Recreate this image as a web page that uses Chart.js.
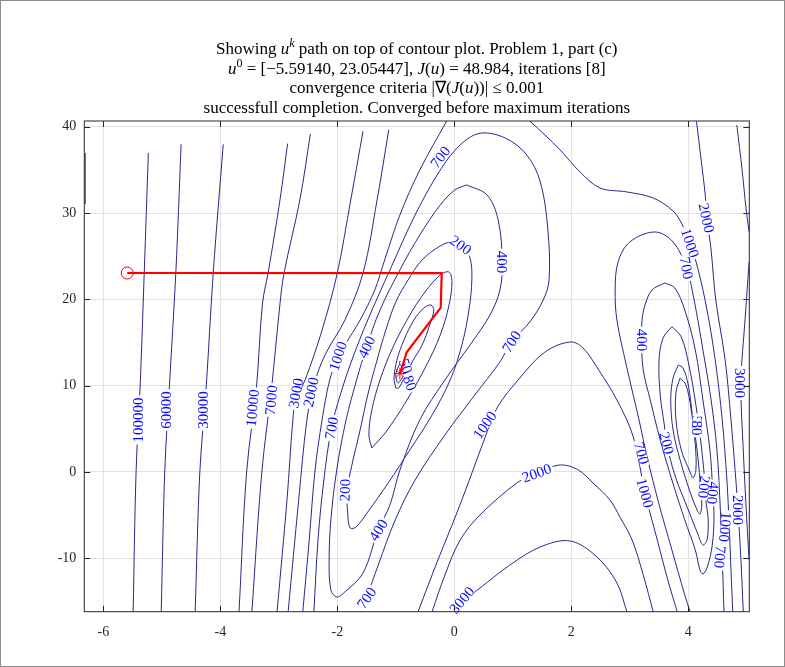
<!DOCTYPE html>
<html>
<head>
<meta charset="utf-8">
<script src="https://cdn.jsdelivr.net/npm/chart.js@4.4.0/dist/chart.umd.min.js"></script>
<style>
html, body { margin: 0; padding: 0; background: #fff; }
#wrap { width: 785px; height: 667px; }
</style>
</head>
<body>
<div id="wrap"><canvas id="contour-chart" width="785" height="667"></canvas></div>
<script>
let lineNavy = "rgb(40,40,140)";
let labelBlue = "rgb(10,10,255)";
let pathRed = "rgb(255,0,0)";

// axis limits and ticks
let xLimits = [-6.325, 5.043];
let yLimits = [-16.19, 40.67];
let xTicks = [-6, -4, -2, 0, 2, 4];
let yTicks = [-10, 0, 10, 20, 30, 40];

// search path u^k
let pathX = [-5.5914, -0.215, -0.232, -0.814, -0.872, -0.928, -0.93, -0.93, -0.93];
let pathY = [23.05447, 23.05, 19.04, 13.87, 12.6, 11.44, 11.42, 11.41, 11.41];

// contour lines, [x, y]
let edgeLine = [[-6.31, 36.96], [-6.31, 31.06]];
let c100000 = [[-5.23,36.96],[-5.30,23.17],[-5.37,9.97],[-5.44,0],[-5.49,-16.19]];
let c60000 = [[-4.67,37.97],[-4.76,23.17],[-4.87,9.97],[-4.95,0],[-5.01,-16.19]];
let c30000 = [[-3.95,37.97],[-4.12,23.17],[-4.24,9.97],[-4.35,0],[-4.43,-16.19]];
let c10000 = [[-2.85,38.05],[-2.98,31.52],[-3.18,23.17],[-3.28,19.47],[-3.38,9.97],[-3.55,0],[-3.68,-16.19]];
let c7000 = [[-2.46,39.17],[-2.64,31.52],[-2.91,23.06],[-2.98,19.47],[-3.12,9.97],[-3.29,0],[-3.46,-16.19]];
let c3000 = [[-1.56,39.48],[-1.77,31.52],[-2.00,23.06],[-2.26,16.45],[-2.55,10.66],[-2.71,8.34],[-2.76,6.03],[-2.86,-3.24],[-3.03,-16.19]];
let c2000 = [[-1.12,39.66],[-1.32,31.52],[-1.56,23.06],[-1.87,17.61],[-2.21,13.56],[-2.40,10.08],[-2.52,6.03],[-2.66,-3.24],[-2.84,-16.19]];
let c1000a = [[-0.13,40.67],[-0.59,34.99],[-0.93,29.78],[-1.19,24.57],[-1.36,21.09],[-1.61,17.61],[-1.87,14.72],[-1.99,13.21],[-2.13,10.66],[-2.26,6.03],[-2.38,0.23],[-2.48,-7.88],[-2.59,-16.19]];
let c700a = [[-2.40,-16.19],[-2.33,-7.88],[-2.23,-0.93],[-2.10,5.10],[-1.95,8.92],[-1.75,12.98],[-1.48,17.61],[-1.10,23.41],[-0.67,29.78],[-0.24,34.99],[0.10,37.89],[0.44,39.25],[0.87,38.70],[1.24,36.73],[1.47,33.60],[1.60,28.04],[1.62,22.25],[1.52,19.93],[1.29,17.38],[0.98,15.10],[0.78,12.75],[0.35,8.92],[-0.16,4.29],[-0.67,-0.93],[-1.01,-5.56],[-1.30,-10.78],[-1.50,-14.60],[-1.58,-16.19]];
let c400a = [[0.21,33.26],[0.56,32.10],[0.75,29.20],[0.82,24.33],[0.78,21.09],[0.61,18.19],[0.27,14.72],[-0.16,10.66],[-0.59,6.03],[-0.93,0.23],[-1.10,-3.82],[-1.30,-6.72],[-1.56,-11.70],[-1.87,-13.90],[-2.01,-14.48],[-2.11,-13.67],[-2.14,-10.20],[-2.11,-5.56],[-2.01,0.23],[-1.85,6.03],[-1.67,10.66],[-1.50,14.48],[-1.27,18.77],[-0.93,23.41],[-0.59,27.46],[-0.24,30.94],[0.01,32.68],[0.21,33.26]];
let c200a = [[0.01,26.88],[-0.24,26.19],[-0.55,24.57],[-0.79,22.25],[-1.00,19.70],[-1.17,16.45],[-1.32,12.98],[-1.48,8.92],[-1.61,4.87],[-1.75,0.81],[-1.83,-2.09],[-1.82,-4.98],[-1.78,-6.49],[-1.68,-6.37],[-1.48,-4.64],[-1.13,-1.27],[-0.76,2.55],[-0.38,6.60],[-0.07,10.66],[0.13,14.72],[0.25,18.77],[0.30,22.25],[0.27,24.80],[0.13,26.54],[0.01,26.88]];
let c100a = [[-1.41,2.78],[-1.46,4.29],[-1.41,7.18],[-1.27,10.66],[-1.07,14.14],[-0.79,17.84],[-0.50,20.86],[-0.24,22.83],[-0.09,23.17],[-0.04,22.02],[-0.09,19.35],[-0.24,15.87],[-0.50,12.05],[-0.84,7.99],[-1.17,4.63],[-1.41,2.78]];
let c80a = [[-1.00,9.73],[-1.03,10.89],[-0.98,12.98],[-0.86,15.30],[-0.69,17.61],[-0.52,19.00],[-0.40,19.35],[-0.35,18.77],[-0.42,17.03],[-0.55,14.72],[-0.72,12.75],[-0.86,10.89],[-0.95,9.73],[-1.00,9.73]];
let c50a = [[-0.98,10.43],[-1.00,11.24],[-0.95,12.28],[-0.86,12.98],[-0.81,12.86],[-0.83,12.05],[-0.89,10.89],[-0.96,10.31],[-0.98,10.43]];
let c1000b = [[-0.62,-16.19],[-0.28,-10.20],[0.05,-4.64],[0.32,0.23],[0.51,3.71],[0.73,7.42],[1.12,10.89],[1.55,13.90],[1.98,15.06],[2.20,14.37],[2.49,11.59],[2.78,8.34],[3.06,4.06],[3.26,-2.43],[3.47,-7.88],[3.65,-12.51],[3.81,-16.19]];
let c2000b = [[-0.38,-16.19],[-0.16,-11.94],[0.10,-7.88],[0.44,-4.98],[1.07,-1.27],[1.41,-0.12],[1.81,0.81],[2.12,0.23],[2.37,-1.27],[2.66,-3.24],[2.83,-5.21],[3.04,-7.88],[3.23,-11.94],[3.40,-16.19]];
let c3000b = [[-0.04,-16.19],[0.10,-15.18],[0.44,-13.44],[0.95,-10.78],[1.47,-8.69],[1.98,-7.99],[2.44,-9.85],[2.78,-12.86],[2.95,-16.19]];
let c700r = [[4.03,-16.19],[3.94,-14.25],[3.72,-9.04],[3.48,-3.24],[3.28,2.20],[3.17,5.68],[2.94,12.40],[2.78,17.61],[2.75,21.09],[2.80,24.33],[3.00,26.65],[3.43,27.81],[3.74,26.65],[3.97,23.64],[4.10,19.93],[4.25,14.14],[4.39,8.34],[4.49,2.55],[4.54,-3.24],[4.58,-9.85],[4.61,-16.19]];
let c1000r = [[1.29,40.67],[1.55,39.05],[1.81,37.31],[2.15,34.76],[2.49,32.91],[2.95,32.45],[3.40,31.75],[3.74,30.24],[3.89,28.74],[4.03,26.54],[4.17,23.41],[4.32,18.77],[4.46,12.98],[4.58,6.03],[4.66,-0.93],[4.70,-6.37],[4.73,-11.36],[4.76,-16.19]];
let c2000r = [[4.14,40.63],[4.22,36.15],[4.29,32.10],[4.32,29.43],[4.39,25.72],[4.47,19.93],[4.63,12.98],[4.73,6.03],[4.80,0.23],[4.85,-4.40],[4.90,-10.20],[4.94,-16.19]];
let c3000r = [[4.83,40.21],[4.92,34.99],[4.99,30.36],[5.04,27.81]];
let c3000s = [[5.04,24.33],[4.97,17.61],[4.90,10.31],[4.94,2.55],[5.00,-5.56],[5.04,-10.20]];
let c400r = [[3.60,21.90],[3.38,21.09],[3.26,19.35],[3.21,17.61],[3.20,15.30],[3.23,11.82],[3.35,8.34],[3.52,3.71],[3.72,-0.93],[3.94,-5.56],[4.12,-9.04],[4.20,-11.36],[4.25,-11.82],[4.32,-11.12],[4.41,-8.46],[4.44,-4.98],[4.42,-2.43],[4.37,2.55],[4.25,8.34],[4.12,14.14],[3.94,18.77],[3.77,21.32],[3.60,21.90]];
let c200r = [[3.72,16.84],[3.57,15.53],[3.50,12.98],[3.52,8.92],[3.59,5.45],[3.63,3.36],[3.77,-0.35],[4.00,-4.40],[4.17,-7.30],[4.25,-8.46],[4.32,-7.88],[4.34,-5.56],[4.30,-3.24],[4.29,-1.74],[4.23,2.55],[4.13,7.76],[4.01,12.40],[3.88,15.64],[3.72,16.84]];
let c80r = [[3.83,12.40],[3.74,10.89],[3.70,8.34],[3.74,4.87],[3.86,1.39],[4.03,-2.32],[4.15,-4.40],[4.20,-4.87],[4.23,-3.82],[4.20,-0.93],[4.15,2.55],[4.08,6.03],[4.00,10.08],[3.91,12.05],[3.83,12.40]];
let c50r = [[3.86,10.89],[3.79,9.27],[3.79,6.03],[3.88,2.55],[4.03,0],[4.08,-0.70],[4.13,0.23],[4.12,3.13],[4.05,7.18],[3.96,10.08],[3.86,10.89]];

let contourLines = [c100000, c60000, c30000, c10000, c7000, c3000, c2000, c1000a, c700a, c400a, c200a, c100a, c80a, c50a,
  c1000b, c2000b, c3000b, c700r, c1000r, c2000r, c3000r, c3000s, c400r, c200r, c80r, c50r];

// contour labels: text, x, y, angle
let contourLabels = [
  ["100000", -5.40, 6.03, -90], ["60000", -4.93, 7.18, -90], ["30000", -4.30, 7.18, -90],
  ["10000", -3.45, 7.42, -85], ["7000", -3.13, 8.34, -85], ["3000", -2.71, 9.15, -80],
  ["2000", -2.45, 9.27, -78], ["1000", -1.99, 13.44, -72], ["700", -2.10, 5.10, -80],
  ["400", -1.50, 14.48, -65], ["200", -1.87, -2.09, -88], ["50", -0.83, 12.28, 70],
  ["80", -0.76, 10.31, 70], ["200", 0.11, 26.30, 35], ["400", 0.82, 24.33, 90],
  ["700", -0.24, 36.50, -52], ["700", 0.98, 15.10, -58], ["400", -1.30, -6.72, -58],
  ["700", -1.50, -14.60, -55], ["1000", 0.52, 5.45, -55], ["2000", 1.41, -0.12, -20],
  ["3000", 0.13, -14.83, -50], ["1000", 4.03, 26.54, 72], ["700", 3.97, 23.64, 80],
  ["2000", 4.31, 29.43, 78], ["400", 3.20, 15.30, 90], ["50", 4.15, 5.68, 90],
  ["80", 4.15, 5.10, 90], ["200", 3.63, 3.36, 75], ["700", 3.20, 2.20, 75],
  ["1000", 3.26, -2.43, 75], ["3000", 4.88, 10.31, 90], ["2000", 4.85, -4.40, 90],
  ["200", 4.27, -1.74, 95], ["400", 4.42, -2.43, 95], ["1000", 4.63, -6.37, 95],
  ["700", 4.54, -9.85, 95]
];

let titleLines = [
  [["Showing ", 0], ["u", 1], ["k", 3], [" path on top of contour plot. Problem 1, part (c)", 0]],
  [["u", 1], ["0", 2], [" = [\u22125.59140, 23.05447], ", 0], ["J", 1], ["(", 0], ["u", 1], [") = 48.984, iterations [8]", 0]],
  [["convergence criteria |\u2207(", 0], ["J", 1], ["(", 0], ["u", 1], ["))| \u2264 0.001", 0]],
  [["successfull completion. Converged before maximum iterations", 0]]
];

function toPoints(arr) {
  return arr.map(p => ({x: p[0], y: p[1]}));
}

let datasets = contourLines.map(c => ({
  data: toPoints(c), showLine: true, borderColor: lineNavy, borderWidth: 1,
  pointRadius: 0, order: 2, tension: 0.35
}));
datasets.push({
  data: toPoints(edgeLine), showLine: true, borderColor: "rgb(20,110,255)", borderWidth: 1.5,
  pointRadius: 0, order: 2
});
datasets.push({
  data: pathX.map((x, i) => ({x: x, y: pathY[i]})), showLine: true, borderColor: pathRed,
  borderWidth: 2.2, pointRadius: 0, order: 0, isPath: true
});
datasets.push({
  data: [{x: pathX[0], y: pathY[0]}], showLine: false, pointStyle: 'circle', pointRadius: 6,
  borderColor: pathRed, backgroundColor: 'rgba(0,0,0,0)', borderWidth: 1, order: 0, isPath: true
});
datasets.push({
  data: [{x: pathX[pathX.length - 1], y: pathY[pathY.length - 1]}], showLine: false, pointStyle: 'star',
  pointRadius: 6, borderColor: pathRed, backgroundColor: 'rgba(0,0,0,0)', borderWidth: 1, order: 0, isPath: true
});

function drawLabels(chart) {
  let ctx = chart.ctx, xs = chart.scales.x, ys = chart.scales.y;
  ctx.save();
  ctx.font = '15px "Liberation Serif"';
  ctx.textAlign = 'center';
  ctx.textBaseline = 'middle';
  contourLabels.forEach(l => {
    let px = xs.getPixelForValue(l[1]), py = ys.getPixelForValue(l[2]);
    ctx.save();
    ctx.translate(px, py);
    ctx.rotate(l[3] * Math.PI / 180);
    let w = ctx.measureText(l[0]).width;
    ctx.fillStyle = '#fff';
    ctx.fillRect(-w / 2 - 2, -4.5, w + 4, 9);
    ctx.fillStyle = labelBlue;
    ctx.fillText(l[0], 0, 1);
    ctx.restore();
  });
  ctx.restore();
}

let contourLabelPlugin = {
  id: 'contourLabels',
  beforeDatasetsDraw(chart) { chart.$labelsDone = false; },
  beforeDatasetDraw(chart, args) {
    if (chart.$labelsDone || !chart.data.datasets[args.index].isPath) return;
    drawLabels(chart);
    chart.$labelsDone = true;
  }
};

let frameTitlePlugin = {
  id: 'frameTitle',
  afterDraw(chart) {
    let ctx = chart.ctx, a = chart.chartArea, xs = chart.scales.x, ys = chart.scales.y;
    ctx.save();
    // axes box with inward ticks
    ctx.strokeStyle = '#262626';
    ctx.lineWidth = 1;
    ctx.strokeRect(a.left, a.top, a.right - a.left, a.bottom - a.top);
    ctx.beginPath();
    xTicks.forEach(t => {
      let p = Math.round(xs.getPixelForValue(t)) + 0.5;
      ctx.moveTo(p, a.bottom); ctx.lineTo(p, a.bottom - 6);
      ctx.moveTo(p, a.top); ctx.lineTo(p, a.top + 6);
    });
    yTicks.forEach(t => {
      let p = Math.round(ys.getPixelForValue(t)) + 0.5;
      ctx.moveTo(a.left, p); ctx.lineTo(a.left + 6, p);
      ctx.moveTo(a.right, p); ctx.lineTo(a.right - 6, p);
    });
    ctx.stroke();
    // figure frame
    ctx.strokeStyle = '#8c8c8c';
    ctx.strokeRect(0.5, 0.5, chart.width - 1, chart.height - 1);
    // title
    ctx.fillStyle = '#000';
    ctx.textBaseline = 'alphabetic';
    let cx = (a.left + a.right) / 2;
    titleLines.forEach((line, i) => {
      let fontFor = s => (s[1] === 1 || s[1] === 3 ? 'italic ' : '') + (s[1] >= 2 ? '12px' : '17px') + ' "Liberation Serif"';
      let total = 0;
      line.forEach(s => { ctx.font = fontFor(s); total += ctx.measureText(s[0]).width; });
      let x = cx - total / 2, base = 54 + i * 19.6;
      line.forEach(s => {
        ctx.font = fontFor(s);
        ctx.fillText(s[0], x, s[1] >= 2 ? base - 7 : base);
        x += ctx.measureText(s[0]).width;
      });
    });
    ctx.restore();
  }
};

new Chart(document.getElementById('contour-chart').getContext('2d'), {
  type: 'scatter',
  data: { datasets: datasets },
  options: {
    responsive: false,
    animation: false,
    devicePixelRatio: 1,
    layout: { padding: { top: 121, right: 35.7, left: 0, bottom: 0 } },
    plugins: { legend: { display: false }, tooltip: { enabled: false }, title: { display: false } },
    scales: {
      x: {
        type: 'linear', min: xLimits[0], max: xLimits[1],
        afterFit: s => { s.height = 55.3; },
        afterBuildTicks: s => { s.ticks = xTicks.map(v => ({value: v})); },
        grid: { color: '#e1e1e1', drawTicks: false },
        border: { display: false },
        ticks: { color: '#262626', padding: 12, font: { family: 'Liberation Serif', size: 14 },
          callback: v => (v < 0 ? '-' : '') + Math.abs(v) }
      },
      y: {
        type: 'linear', min: yLimits[0], max: yLimits[1],
        afterFit: s => { s.width = 84.3; },
        afterBuildTicks: s => { s.ticks = yTicks.map(v => ({value: v})); },
        grid: { color: '#e1e1e1', drawTicks: false },
        border: { display: false },
        ticks: { color: '#262626', padding: 8, font: { family: 'Liberation Serif', size: 14 },
          callback: v => (v < 0 ? '-' : '') + Math.abs(v) }
      }
    }
  },
  plugins: [contourLabelPlugin, frameTitlePlugin]
});
</script>
</body>
</html>
